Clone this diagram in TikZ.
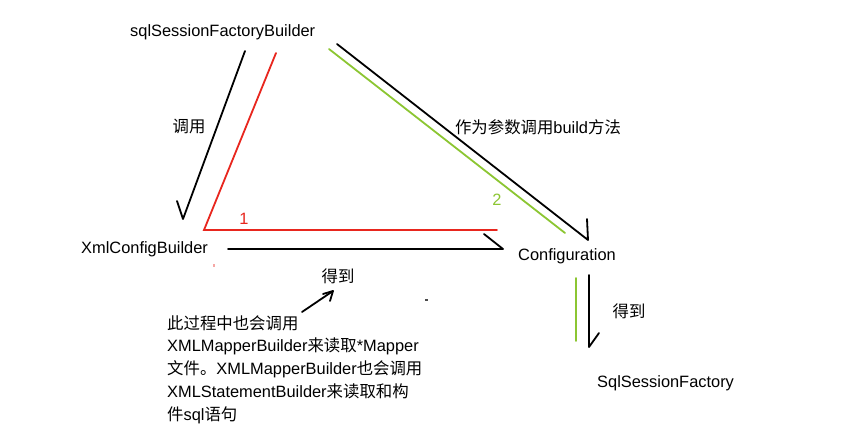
\documentclass[tikz,border=0pt]{standalone}
\usepackage{fontspec}
\setmainfont{Liberation Sans}
\newfontfamily\cjkf{Noto Sans CJK SC}
\newcommand\zh[1]{{\cjkf #1}}
\definecolor{hred}{RGB}{232,38,30}
\definecolor{hgreen}{RGB}{140,198,50}
\begin{document}
\begin{tikzpicture}[x=1pt,y=-1pt,
  lbl/.style={inner sep=0pt,font=\fontsize{16.4}{19}\selectfont},
  blk/.style={lbl,anchor=base west},
  ink/.style={line width=1.8pt,black,line cap=round,line join=round},
  redl/.style={line width=1.8pt,hred,line cap=round,line join=miter},
  greenl/.style={line width=1.8pt,hgreen,line cap=round}]
\useasboundingbox (0,0) rectangle (859,434);
\fill[white] (0,0) rectangle (859,434);
% texts
\node[blk] (sfb) at (130,36) {sqlSessionFactoryBuilder};
\node[blk] (xcb) at (81,253) {XmlConfigBuilder};
\node[blk] (cfg) at (518,260) {Configuration};
\node[blk] (ssf) at (597,387) {SqlSessionFactory};
\node[lbl] (call) at (189,126) {\zh{调用}};
\node[lbl] (param) at (538,127) {\zh{作为参数调用}build\zh{方法}};
\node[lbl,text=hred] (one) at (244,219) {1};
\node[lbl,text=hgreen] (two) at (497,200) {2};
\node[lbl] (get1) at (338,276) {\zh{得到}};
\node[lbl] (get2) at (629,311) {\zh{得到}};
\node[blk] (l1) at (167,329) {\zh{此过程中也会调用}};
\node[blk] (l2) at (167,351.75) {XMLMapperBuilder\zh{来读取}*Mapper};
\node[blk] (l3) at (167,374.5) {\zh{文件。}XMLMapperBuilder\zh{也会调用}};
\node[blk] (l4) at (167,397.25) {XMLStatementBuilder\zh{来读取和构}};
\node[blk] (l5) at (167,420) {\zh{件}sql\zh{语句}};
% end points of the hand drawn connectors
\coordinate (c1s) at (245,51);
\coordinate (c1e) at (183,219);
\coordinate (c1b) at (177,201);
\coordinate (r1) at (276,53);
\coordinate (r2) at (204,230);
\coordinate (r3) at (497,230);
\coordinate (h1s) at (228,249);
\coordinate (h1e) at (503,249);
\coordinate (h1b) at (484,234);
\coordinate (d1s) at (337,44);
\coordinate (d1e) at (588,240);
\coordinate (d1b) at (587,219);
\coordinate (g1s) at (329,49);
\coordinate (g1e) at (565,233);
\coordinate (g2s) at (576,278);
\coordinate (g2e) at (576,341);
\coordinate (v1s) at (589,275);
\coordinate (v1e) at (589,347);
\coordinate (v1b) at (599,333);
\coordinate (s1s) at (302,312);
\coordinate (s1e) at (333,291);
\coordinate (s1b1) at (323,294);
\coordinate (s1b2) at (330,301);
% connectors
\draw[ink] (c1s) -- (c1e) -- (c1b);
\draw[redl] (r1) -- (r2) -- (r3);
\draw[ink] (h1s) -- (h1e) -- (h1b);
\draw[ink] (d1s) -- (d1e) -- (d1b);
\draw[greenl] (g1s) -- (g1e);
\draw[greenl] (g2s) -- (g2e);
\draw[ink] (v1s) -- (v1e) -- (v1b);
\draw[ink] (s1b1) -- (s1e) -- (s1b2);
\draw[ink] (s1s) -- (s1e);
% stray specks
\fill[black!70] (425,299.3) rectangle (428,300.7);
\fill[hred!40] (213,264) rectangle (215,266.5);
\end{tikzpicture}
\end{document}
